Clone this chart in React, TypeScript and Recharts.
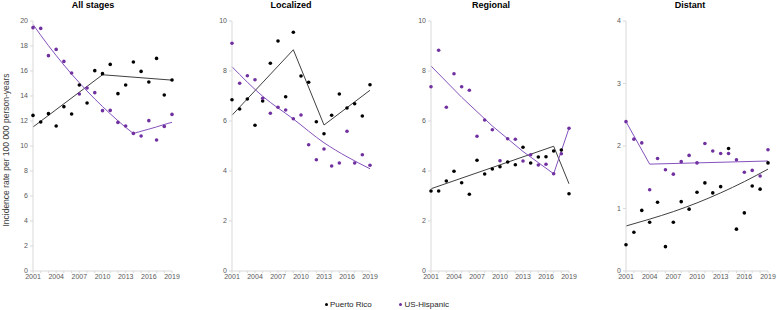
import { ComposedChart, Line, Scatter, XAxis, YAxis } from 'recharts'

// incidence per 100 000 person-years, 2001-2019
const years = [2001, 2002, 2003, 2004, 2005, 2006, 2007, 2008, 2009, 2010, 2011, 2012, 2013, 2014, 2015, 2016, 2017, 2018, 2019]

const prAll = [12.45, 11.92, 12.59, 11.6, 13.15, 12.56, 14.88, 13.44, 16.03, 15.79, 16.53, 14.19, 14.88, 16.72, 15.97, 15.12, 17.01, 14.08, 15.28]
const usAll = [19.47, 19.41, 17.23, 17.73, 16.77, 15.84, 14.16, 14.64, 14.27, 12.83, 12.85, 11.89, 11.6, 11.01, 10.8, 12.03, 10.48, 11.57, 12.53]
const prAllFit = [11.52, null, null, null, null, null, null, null, null, 15.7, null, null, null, null, null, null, null, null, 15.27]
const usAllFit = [19.73, 18.86, 18.03, 17.24, 16.48, 15.75, 15.06, 14.4, 13.76, 13.16, 12.58, 12.02, 11.49, 11.0, 11.18, 11.35, 11.53, 11.72, 11.9]

const prLoc = [6.85, 6.48, 6.88, 5.83, 6.8, 8.31, 9.2, 6.97, 9.55, 7.8, 7.55, 5.97, 5.49, 6.23, 7.08, 6.52, 6.69, 6.2, 7.45]
const usLoc = [9.11, 7.51, 7.81, 7.65, 6.91, 6.31, 6.55, 6.44, 6.09, 6.24, 5.05, 4.45, 4.88, 4.2, 4.32, 5.59, 4.32, 4.65, 4.23]
const prLocFit = [6.23, null, null, null, null, null, null, null, 8.85, null, null, null, 5.84, null, null, null, null, null, 7.23]
const usLocFit = [8.17, null, null, null, 6.99, null, null, null, 6.08, null, null, null, 5.13, null, null, 4.57, null, null, 4.09]

const prReg = [3.2, 3.2, 3.6, 3.99, 3.53, 3.07, 4.43, 3.88, 4.08, 4.17, 4.36, 4.25, 4.95, 4.32, 4.56, 4.57, 4.8, 4.84, 3.09]
const usReg = [7.37, 8.83, 6.55, 7.89, 7.37, 7.23, 5.39, 6.04, 5.65, 4.41, 5.29, 5.27, 4.4, 4.65, 4.24, 4.27, 3.89, 4.69, 5.71]
const prRegFit = [3.29, null, null, null, null, null, null, null, null, null, null, null, null, null, null, null, 4.99, null, 3.49]
const usRegFit = [8.2, null, null, null, 6.95, null, null, null, 5.8, null, null, null, 4.78, null, null, null, 3.89, null, 5.71]

const prDist = [0.42, 0.62, 0.97, 0.78, 1.1, 0.39, 0.78, 1.11, 0.99, 1.26, 1.41, 1.25, 1.35, 1.96, 0.67, 0.93, 1.36, 1.31, 1.73]
const usDist = [2.39, 2.11, 2.05, 1.3, 1.8, 1.62, 1.55, 1.75, 1.85, 1.73, 2.04, 1.92, 1.88, 1.88, 1.78, 1.58, 1.61, 1.52, 1.94]
const prDistFit = [0.72, null, null, 0.83, null, null, 0.95, null, null, 1.09, null, null, 1.25, null, null, 1.43, null, null, 1.63]
const usDistFit = [2.39, null, null, 1.71, null, null, null, null, null, null, null, null, null, null, null, null, null, null, 1.76]

const FONT = '"Liberation Sans", Arial, sans-serif'
const PURPLE = '#7030a0'
const PURPLE_LINE = '#8552bd'
const AXIS = '#d9d9d9'
const TEXT = '#595959'

const makeRows = (pr: number[], us: number[], prFit: (number | null)[], usFit: (number | null)[]) =>
  years.map((year, i) => ({ year, pr: pr[i], us: us[i], prFit: prFit[i], usFit: usFit[i] }))

const dot = (fill: string) => (p: any) => <circle cx={p.cx} cy={p.cy} r={1.8} fill={fill} />

interface PanelProps {
  title: string
  titleX: number
  left: number
  plotWidth: number
  rows: ReturnType<typeof makeRows>
  yMax: number
  yTicks: number[]
  prCurve?: 'linear' | 'monotone'
  usCurve?: 'linear' | 'monotone'
}

function Panel({ title, titleX, left, plotWidth, rows, yMax, yTicks, prCurve = 'linear', usCurve = 'linear' }: PanelProps) {
  const width = 30 + plotWidth + 10
  return (
    <>
      <div
        style={{
          position: 'absolute', left: titleX - 60, top: 0, width: 120, textAlign: 'center',
          fontSize: 9, fontWeight: 'bold', lineHeight: '11px', color: '#000',
        }}
      >
        {title}
      </div>
      <div style={{ position: 'absolute', left, top: 0 }}>
        <ComposedChart width={width} height={291} data={rows} margin={{ top: 21, right: 10, bottom: 0, left: 0 }}>
          <XAxis
            dataKey="year"
            type="number"
            domain={[2001, 2019]}
            ticks={years}
            interval={0}
            tickFormatter={(v: number) => ((v - 2001) % 3 === 0 ? String(v) : '')}
            height={20}
            tickSize={2}
            tickMargin={1}
            stroke={AXIS}
            tick={{ fontSize: 7, fill: TEXT, fontFamily: FONT }}
          />
          <YAxis
            type="number"
            domain={[0, yMax]}
            ticks={yTicks}
            width={30}
            tickSize={3}
            tickMargin={2}
            stroke={AXIS}
            tick={{ fontSize: 7, fill: TEXT, fontFamily: FONT }}
          />
          <Line dataKey="prFit" type={prCurve} stroke="#404040" strokeWidth={1} dot={false} connectNulls isAnimationActive={false} />
          <Line dataKey="usFit" type={usCurve} stroke={PURPLE_LINE} strokeWidth={1} dot={false} connectNulls isAnimationActive={false} />
          <Scatter dataKey="pr" shape={dot('#000')} isAnimationActive={false} />
          <Scatter dataKey="us" shape={dot(PURPLE)} isAnimationActive={false} />
        </ComposedChart>
      </div>
    </>
  )
}

export default function App() {
  return (
    <div style={{ position: 'absolute', left: 0, top: 0, width: 777, height: 310, background: '#fff', fontFamily: FONT, overflow: 'hidden' }}>
      <div
        style={{
          position: 'absolute', left: 5.5 - 100, top: 150 - 5, width: 200, height: 10, lineHeight: '10px',
          textAlign: 'center', fontSize: 8.5, color: '#404040', transform: 'rotate(-90deg)',
        }}
      >
        Incidence rate per 100 000 person-years
      </div>
      <Panel title="All stages" titleX={93} left={3} plotWidth={139} rows={makeRows(prAll, usAll, prAllFit, usAllFit)}
        yMax={20} yTicks={[0, 2, 4, 6, 8, 10, 12, 14, 16, 18, 20]} />
      <Panel title="Localized" titleX={291} left={202} plotWidth={138} rows={makeRows(prLoc, usLoc, prLocFit, usLocFit)}
        yMax={10} yTicks={[0, 2, 4, 6, 8, 10]} usCurve="monotone" />
      <Panel title="Regional" titleX={491} left={401} plotWidth={138} rows={makeRows(prReg, usReg, prRegFit, usRegFit)}
        yMax={10} yTicks={[0, 2, 4, 6, 8, 10]} />
      <Panel title="Distant" titleX={690} left={596} plotWidth={142} rows={makeRows(prDist, usDist, prDistFit, usDistFit)}
        yMax={4} yTicks={[0, 1, 2, 3, 4]} prCurve="monotone" />
      <div style={{ position: 'absolute', left: 325, top: 303, width: 3, height: 3, borderRadius: '50%', background: '#000' }} />
      <div style={{ position: 'absolute', left: 330, top: 299.5, fontSize: 8, lineHeight: '10px', color: '#262626' }}>Puerto Rico</div>
      <div style={{ position: 'absolute', left: 399, top: 303, width: 3, height: 3, borderRadius: '50%', background: PURPLE }} />
      <div style={{ position: 'absolute', left: 404.5, top: 299.5, fontSize: 8, lineHeight: '10px', color: '#262626' }}>US-Hispanic</div>
    </div>
  )
}
